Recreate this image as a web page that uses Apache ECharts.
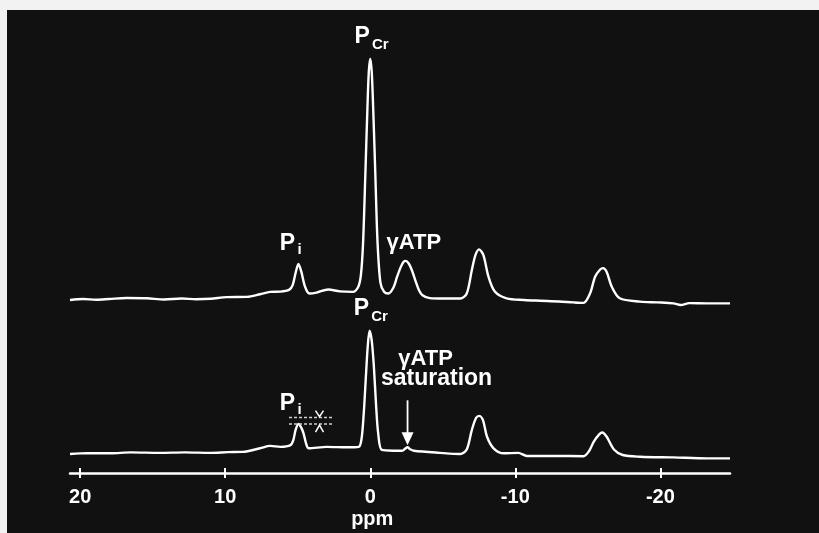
<!DOCTYPE html>
<html>
<head>
<meta charset="utf-8">
<script src="https://cdn.jsdelivr.net/npm/echarts@6/dist/echarts.min.js"></script>
<style>
  html, body { margin: 0; padding: 0; background: #f2f2f2; }
  #panel { position: absolute; left: 7px; top: 10px; width: 812px; height: 523px; background: #111112; }
  #chart { position: absolute; left: 0; top: 0; width: 819px; height: 533px; }
</style>
</head>
<body>
<div id="panel"></div>
<div id="chart"></div>
<script>
// 31P NMR spectra: chemical shift (ppm) vs. signal intensity (a.u.)
// Control spectrum (upper trace)
const controlSpectrum = [
  [20.7, -0.2], [19.8, 0.2], [18.9, -0.1], [18.0, 0.2], [16.8, 0.6], [15.4, 0.5],
  [14.2, 0.0], [13.0, 0.4], [12.0, 0.1], [11.0, 0.3], [9.9, 1.0], [8.5, 1.1],
  [7.6, 2.2], [6.9, 3.2], [6.2, 3.3], [5.6, 4.0], [5.35, 6.0], [5.15, 11.0],
  [4.95, 14.8], [4.75, 11.5], [4.5, 5.4], [4.2, 2.5], [3.7, 2.9], [2.9, 4.2],
  [2.1, 3.4], [1.2, 3.2], [0.85, 5.0], [0.65, 10.0], [0.5, 23.0], [0.35, 50.0],
  [0.2, 79.0], [0.1, 95.0], [0.0, 100.4], [-0.1, 95.0], [-0.2, 80.0], [-0.35, 52.0],
  [-0.5, 24.0], [-0.7, 7.0], [-0.95, 3.2], [-1.25, 2.5], [-1.6, 5.0], [-1.85, 9.5],
  [-2.1, 13.5], [-2.3, 15.7], [-2.45, 16.1], [-2.65, 15.0], [-2.85, 12.5], [-3.1, 8.1],
  [-3.35, 4.0], [-3.6, 1.8], [-4.1, 0.6], [-5.0, 0.4], [-6.2, 0.4], [-6.65, 2.5],
  [-7.0, 12.2], [-7.25, 18.5], [-7.5, 20.9], [-7.8, 18.5], [-8.15, 9.5], [-8.6, 3.2],
  [-9.4, 0.5], [-10.6, -0.2], [-11.7, -0.5], [-13.0, -0.8], [-14.0, -1.2], [-14.7, -1.4],
  [-15.15, 2.5], [-15.5, 9.5], [-15.85, 12.5], [-16.05, 13.1], [-16.3, 11.5], [-16.65, 5.3],
  [-17.2, 0.5], [-18.6, -0.9], [-19.8, -1.2], [-20.9, -1.6], [-21.4, -2.3], [-22.0, -1.5],
  [-23.2, -1.6], [-24.8, -1.6]
];

// Spectrum with gamma-ATP saturation (lower trace)
const saturatedSpectrum = [
  [20.7, -0.4], [19.5, 0.0], [17.9, -0.1], [16.5, 0.3], [14.5, 0.1], [12.8, 0.3],
  [11.0, 0.1], [9.8, 0.4], [8.8, 0.5], [7.6, 2.0], [6.9, 3.0], [6.2, 2.6],
  [5.5, 3.3], [5.3, 5.5], [5.15, 9.6], [4.95, 12.1], [4.75, 10.5], [4.6, 8.2],
  [4.4, 3.5], [4.25, 2.0], [3.0, 2.6], [1.6, 2.4], [0.8, 2.6], [0.6, 6.0],
  [0.45, 16.5], [0.3, 32.0], [0.18, 44.0], [0.05, 51.0], [-0.1, 47.0], [-0.25, 36.0],
  [-0.4, 20.0], [-0.55, 8.0], [-0.8, 1.3], [-1.6, 1.0], [-2.2, 1.0], [-2.4, 1.8],
  [-2.57, 2.4], [-2.75, 1.6], [-3.0, 1.0], [-4.8, 0.1], [-6.2, -0.4], [-6.65, 1.5],
  [-7.0, 9.6], [-7.3, 14.7], [-7.52, 15.5], [-7.77, 13.75], [-8.05, 6.8], [-8.5, 2.0],
  [-9.2, -0.1], [-10.2, 0.1], [-10.8, -1.2], [-12.9, -1.2], [-14.7, -1.3], [-15.1, 1.0],
  [-15.4, 4.7], [-15.8, 7.9], [-16.0, 8.6], [-16.3, 6.8], [-16.8, 1.5], [-17.4, -0.8],
  [-18.6, -1.5], [-20.9, -1.8], [-23.2, -2.2], [-24.8, -2.2]
];

const ppmTicks = [20, 10, 0, -10, -20];
const ppmRange = [-24.8, 20.7];
const intensityRange = [-8.3, 175.9];
const controlOffset = 64;        // vertical stacking of the upper trace

// Peak positions (ppm) used for annotation
const peakPCr = 0.0;
const peakPi = 4.95;
const peakGammaATP = -2.45;
const saturationPoint = -2.57;
const piMarkerRange = [5.6, 2.5];
const piMarkerAt = 3.5;

const FONT = '"Liberation Sans", Arial, Helvetica, sans-serif';
const WHITE = '#ffffff';

const chart = echarts.init(document.getElementById('chart'), null, { renderer: 'canvas' });

const xBase = {
  type: 'value',
  min: ppmRange[0],
  max: ppmRange[1],
  inverse: true,
  splitLine: { show: false }
};

const upperTrace = controlSpectrum.map(([x, y]) => [x, y + controlOffset]);

chart.setOption({
  backgroundColor: 'transparent',
  animation: false,
  grid: { left: 70, right: 89, top: 31, bottom: 60, containLabel: false, outerBoundsMode: 'none' },
  xAxis: [
    Object.assign({}, xBase, {
      position: 'bottom',
      axisLine: { show: true, onZero: false, lineStyle: { color: WHITE, width: 2.5 } },
      axisTick: { show: true, inside: true, length: 5, customValues: ppmTicks, lineStyle: { color: WHITE, width: 2 } },
      axisLabel: {
        show: true, customValues: ppmTicks, color: WHITE, fontFamily: FONT,
        fontWeight: 'bold', fontSize: 20, margin: 14,
        formatter: v => String(v)
      }
    }),
    Object.assign({}, xBase, {
      position: 'bottom',
      axisLine: { show: false, onZero: false },
      axisTick: { show: true, inside: false, length: 5, customValues: ppmTicks, lineStyle: { color: WHITE, width: 2 } },
      axisLabel: { show: false }
    })
  ],
  yAxis: { type: 'value', min: intensityRange[0], max: intensityRange[1], show: false },
  series: [
    {
      name: 'control', type: 'line', xAxisIndex: 0, yAxisIndex: 0,
      data: upperTrace, showSymbol: false, smooth: 0.3,
      lineStyle: { color: WHITE, width: 2.4 }
    },
    {
      name: 'saturation', type: 'line', xAxisIndex: 0, yAxisIndex: 0,
      data: saturatedSpectrum, showSymbol: false, smooth: 0.3,
      lineStyle: { color: WHITE, width: 2.4 }
    }
  ]
});

// ---- annotations placed from data coordinates ----
const toPx = (ppm, v) => chart.convertToPixel({ xAxisIndex: 0, yAxisIndex: 0 }, [ppm, v]);
const valueAt = (spec, ppm) => spec.reduce((a, b) => Math.abs(b[0] - ppm) < Math.abs(a[0] - ppm) ? b : a)[1];

function label(text, x, y, size, align) {
  return {
    type: 'text', x: x, y: y, z: 50,
    style: {
      text: text, fill: WHITE, font: 'bold ' + size + 'px ' + FONT,
      textAlign: align || 'center', textVerticalAlign: 'middle'
    }
  };
}
function subscripted(main, sub, anchor) {
  return [
    label(main, anchor[0] - 8, anchor[1] - 22, 23),
    label(sub, anchor[0] + (sub.length > 1 ? 10 : 2), anchor[1] - 14, 15)
  ];
}

const els = [];

// Upper trace labels
const cPCr = toPx(peakPCr, valueAt(controlSpectrum, peakPCr) + controlOffset);
const cPi = toPx(peakPi, valueAt(controlSpectrum, peakPi) + controlOffset);
const cGamma = toPx(peakGammaATP, valueAt(controlSpectrum, peakGammaATP) + controlOffset);
els.push(...subscripted('P', 'Cr', cPCr));
els.push(label('P', cPi[0] - 11, cPi[1] - 20, 23), label('i', cPi[0] + 1, cPi[1] - 14, 15));
els.push(label('\u03b3ATP', cGamma[0] + 8, cGamma[1] - 18, 22));

// Lower trace labels
const sPCr = toPx(0.05, valueAt(saturatedSpectrum, 0.05));
const sPi = toPx(peakPi, valueAt(saturatedSpectrum, peakPi));
els.push(...subscripted('P', 'Cr', sPCr));
els.push(label('P', sPi[0] - 11, sPi[1] - 20, 23), label('i', sPi[0] + 1, sPi[1] - 14, 15));

// Pi height comparison: control height vs. saturated height
const piControl = valueAt(controlSpectrum, peakPi);
const piSaturated = valueAt(saturatedSpectrum, peakPi);
const lineA1 = toPx(piMarkerRange[0], piControl), lineA2 = toPx(piMarkerRange[1], piControl);
const lineB1 = toPx(piMarkerRange[0], piSaturated), lineB2 = toPx(piMarkerRange[1], piSaturated);
const dashStyle = { stroke: '#d0d0d0', lineWidth: 1.5, lineDash: [3, 2] };
els.push({ type: 'line', z: 40, shape: { x1: lineA1[0], y1: lineA1[1], x2: lineA2[0], y2: lineA2[1] }, style: dashStyle });
els.push({ type: 'line', z: 40, shape: { x1: lineB1[0], y1: lineB1[1], x2: lineB2[0], y2: lineB2[1] }, style: dashStyle });
const mA = toPx(piMarkerAt, piControl), mB = toPx(piMarkerAt, piSaturated);
els.push({ type: 'polyline', z: 40, shape: { points: [[mA[0] - 4, mA[1] - 7], [mA[0], mA[1] - 1], [mA[0] + 4, mA[1] - 7]] }, style: { stroke: WHITE, lineWidth: 1.5, fill: null } });
els.push({ type: 'polyline', z: 40, shape: { points: [[mB[0] - 4, mB[1] + 8], [mB[0], mB[1] + 1], [mB[0] + 4, mB[1] + 8]] }, style: { stroke: WHITE, lineWidth: 1.5, fill: null } });

// Saturation arrow and its caption
const sat = toPx(saturationPoint, valueAt(saturatedSpectrum, saturationPoint));
const tipY = sat[1] - 2;
els.push({ type: 'line', z: 40, shape: { x1: sat[0], y1: tipY - 45, x2: sat[0], y2: tipY - 10 }, style: { stroke: WHITE, lineWidth: 1.8 } });
els.push({ type: 'polygon', z: 40, shape: { points: [[sat[0] - 6, tipY - 13], [sat[0] + 6, tipY - 13], [sat[0], tipY]] }, style: { fill: WHITE } });
els.push(label('\u03b3ATP', sat[0] + 18, sat[1] - 88, 22));
els.push(label('saturation', sat[0] + 29, sat[1] - 69, 23));

// Axis title
const zeroPx = toPx(0, intensityRange[0]);
els.push(label('ppm', zeroPx[0] + 2, zeroPx[1] + 46, 20));

chart.setOption({ graphic: { elements: els } });
</script>
</body>
</html>
